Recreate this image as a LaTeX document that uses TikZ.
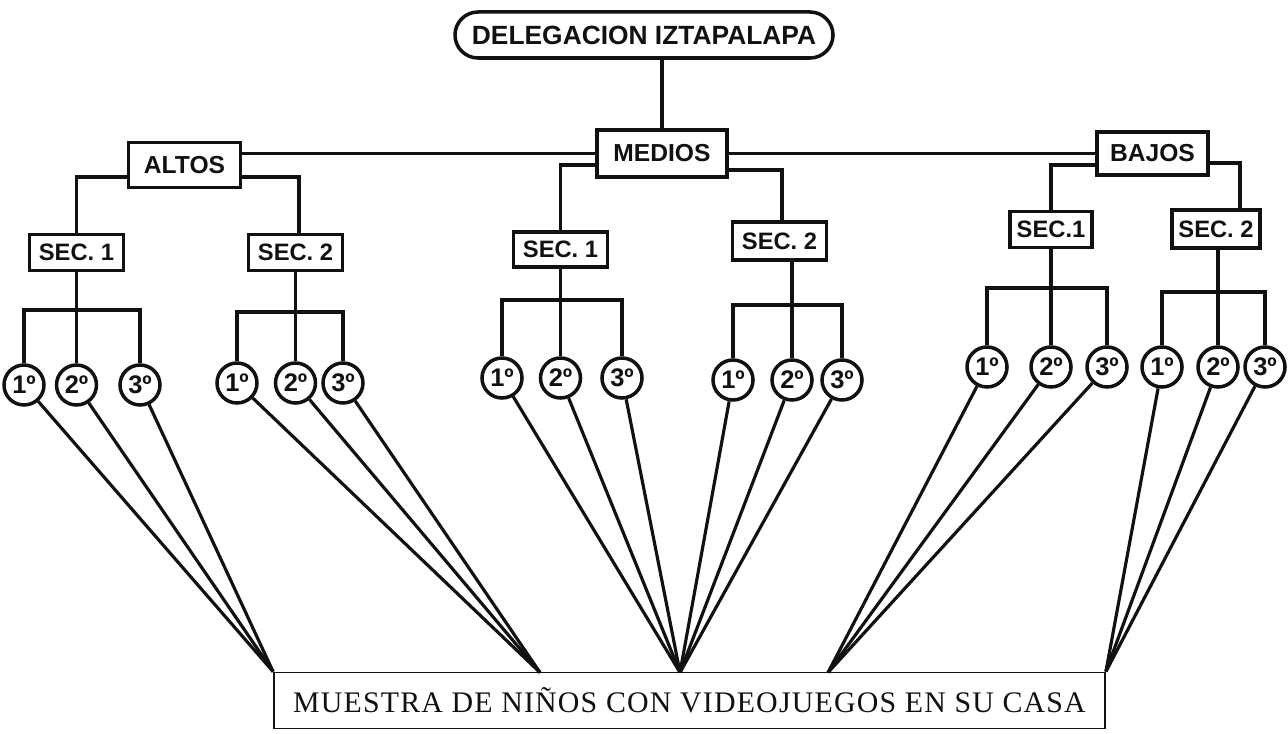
\documentclass[tikz,border=0pt]{standalone}
\usepackage{fontspec}
\setmainfont{Liberation Serif}
\setsansfont{Liberation Sans}
\newfontfamily\samplefont[LetterSpace=4]{Liberation Serif}
\usetikzlibrary{positioning, calc}
\definecolor{scanink}{HTML}{111111}

\begin{document}
\begin{tikzpicture}[
    line width=2pt,
    every node/.style={text=scanink},
    levelbox/.style={draw=scanink, rectangle, inner sep=2pt, minimum width=2.24cm, minimum height=0.9cm,
        font=\sffamily\bfseries\fontsize{14}{16}\selectfont},
    secbox/.style={draw=scanink, rectangle, inner sep=2pt, minimum width=1.88cm, minimum height=0.72cm,
        font=\sffamily\bfseries\fontsize{13.5}{15}\selectfont},
    grade/.style={draw=scanink, circle, inner sep=0pt, minimum size=0.8cm,
        font=\sffamily\bfseries\fontsize{14.5}{16}\selectfont},
    wire/.style={draw=scanink},
    fan/.style={draw=scanink, line width=1.8pt}
]
    \useasboundingbox (0,0) rectangle (25.76,14.66);

    \node[draw=scanink, rounded corners=0.46cm, minimum width=7.56cm, minimum height=0.92cm,
          font=\sffamily\bfseries\fontsize{15}{17}\selectfont] (deleg) at (12.88,13.96) {DELEGACION IZTAPALAPA};

    \node[levelbox] (altos) at (3.69,11.36) {ALTOS};
    \node[levelbox, minimum width=2.6cm, minimum height=0.94cm] (medios) at (13.24,11.59) {MEDIOS};
    \node[levelbox, minimum width=2.22cm, minimum height=0.86cm] (bajos) at (23.05,11.59) {BAJOS};

    \node[secbox] (sa1) at (1.53,9.61) {SEC. 1};
    \node[secbox] (sa2) at (5.91,9.61) {SEC. 2};
    \node[secbox, minimum height=0.7cm] (sm1) at (11.21,9.67) {SEC. 1};
    \node[secbox, minimum height=0.76cm] (sm2) at (15.59,9.84) {SEC. 2};
    \node[secbox, minimum width=1.64cm] (sb1) at (21.02,10.07) {SEC.1};
    \node[secbox, minimum width=1.76cm, minimum height=0.76cm] (sb2) at (24.32,10.08) {SEC. 2};

    \node[grade] (a11) at (0.48,6.96) {1º};
    \node[grade] (a12) at (1.53,6.96) {2º};
    \node[grade] (a13) at (2.80,6.96) {3º};
    \node[grade] (a21) at (4.74,7.0) {1º};
    \node[grade] (a22) at (5.91,7.0) {2º};
    \node[grade] (a23) at (6.86,7.0) {3º};
    \node[grade] (m11) at (10.04,7.1) {1º};
    \node[grade] (m12) at (11.21,7.1) {2º};
    \node[grade] (m13) at (12.44,7.1) {3º};
    \node[grade] (m21) at (14.66,7.06) {1º};
    \node[grade] (m22) at (15.84,7.06) {2º};
    \node[grade] (m23) at (16.84,7.06) {3º};
    \node[grade] (b11) at (19.74,7.32) {1º};
    \node[grade] (b12) at (21.02,7.32) {2º};
    \node[grade] (b13) at (22.14,7.32) {3º};
    \node[grade] (b21) at (23.24,7.32) {1º};
    \node[grade] (b22) at (24.36,7.32) {2º};
    \node[grade] (b23) at (25.3,7.32) {3º};

    \node[draw=scanink, line width=1pt, rectangle, inner sep=0pt, minimum width=16.62cm, minimum height=1.12cm,
          font=\samplefont\fontsize{17}{19}\selectfont] (muestra) at (13.79,0.65) {MUESTRA DE NIÑOS CON VIDEOJUEGOS EN SU CASA};

    \coordinate (ja1) at (1.53,8.46);
    \coordinate (ja2) at (5.91,8.42);
    \coordinate (jm1) at (11.21,8.66);
    \coordinate (jm2) at (15.84,8.56);
    \coordinate (jb1) at (21.02,8.9);
    \coordinate (jb2) at (24.36,8.82);

    \coordinate (pa1) at (muestra.north west);
    \coordinate (pa2) at (10.8,1.21);
    \coordinate (pm) at (13.6,1.21);
    \coordinate (pb1) at (16.56,1.21);
    \coordinate (pb2) at (muestra.north east);

    \draw[wire] (deleg.south -| medios) -- (medios);
    \draw[wire] (medios.west) -- (medios.west -| altos.east);
    \draw[wire] (medios.east) -- (medios.east -| bajos.west);

    \draw[wire] ([yshift=-0.24cm]altos.west) -| (sa1);
    \draw[wire] ([yshift=-0.24cm]altos.east) -| ([xshift=0.07cm]sa2.north);
    \draw[wire] ([yshift=-0.23cm]medios.west) -| (sm1);
    \draw[wire] ([yshift=-0.33cm]medios.east) -| ([xshift=0.05cm]sm2.north);
    \draw[wire] ([yshift=-0.23cm]bajos.west) -| (sb1);
    \draw[wire] ([yshift=-0.19cm]bajos.east) -| ([xshift=0.48cm]sb2.north);

    \foreach \g in {a1,a2,m1,m2,b1,b2} {
        \draw[wire] (s\g.south -| j\g) -- (j\g);
        \draw[wire] (\g1.north) |- (j\g) -| (\g3.north);
        \draw[wire] (j\g) -- (\g2.north);
    }

    \foreach \g/\p in {a1/pa1, a2/pa2, m1/pm, m2/pm, b1/pb1, b2/pb2}
        \foreach \k in {1,2,3}
            \draw[fan] (\g\k) -- (\p);
\end{tikzpicture}
\end{document}
